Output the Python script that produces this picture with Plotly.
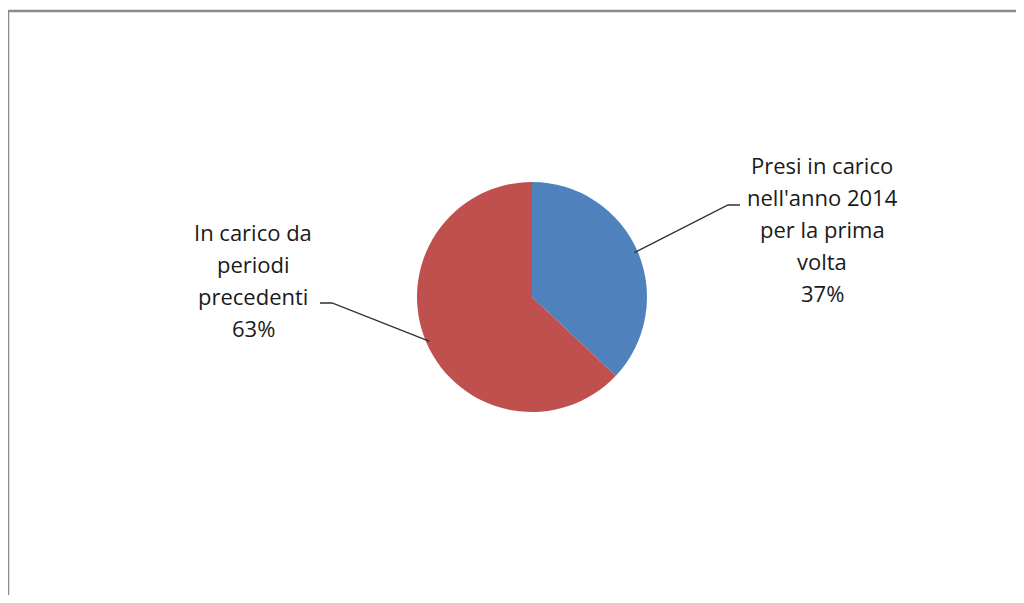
import math
import plotly.graph_objects as go

# Data
categories = ["Presi in carico nell'anno 2014 per la prima volta", "In carico da periodi precedenti"]
values = [37, 63]
label_lines = [
    ["Presi in carico", "nell'anno 2014", "per la prima", "volta"],
    ["In carico da", "periodi", "precedenti"],
]
colors = ["#4F81BD", "#C0504D"]

OFF = 8  # page body margin
W, H = 1008, 587
cx, cy, r = 532 - OFF, 297 - OFF, 115  # pie centre/radius in figure pixels (from top)

def px(x, y):
    """page pixel -> paper coords"""
    return (x - OFF) / W, 1 - (y - OFF) / H

fig = go.Figure()
fig.add_trace(go.Pie(
    labels=categories, values=values, sort=False, direction="clockwise", rotation=0,
    marker=dict(colors=colors, line=dict(width=0)),
    textinfo="none", hoverinfo="label+percent", showlegend=False,
    domain=dict(x=[(cx - r) / W, (cx + r) / W], y=[1 - (cy + r) / H, 1 - (cy - r) / H]),
))

font = dict(family="Open Sans, Liberation Sans, sans-serif", size=22, color="#1a1a1a")
annotations = []
shapes = []

label_cfg = [
    dict(x=822, y0=165, elbow=(728, 205), hook=(740, 205)),
    dict(x=253, y0=232, elbow=(332, 303), hook=(320, 303)),
]
spacing = 32
total = sum(values)
start = 0.0
for i, v in enumerate(values):
    frac = v / total
    mid = (start + frac / 2) * 2 * math.pi
    start += frac
    cfg = label_cfg[i]
    lines = label_lines[i] + [f"{round(frac * 100)}%"]
    for k, t in enumerate(lines):
        xp, yp = px(cfg["x"], cfg["y0"] + k * spacing)
        annotations.append(dict(text=t, x=xp, y=yp, xref="paper", yref="paper",
                                showarrow=False, xanchor="center", yanchor="middle", font=font))
    ex = (cx + OFF) + r * 0.97 * math.sin(mid)
    ey = (cy + OFF) - r * 0.97 * math.cos(mid)
    pts = [px(ex, ey), px(*cfg["elbow"]), px(*cfg["hook"])]
    path = "M {} {} L {} {} L {} {}".format(pts[0][0], pts[0][1], pts[1][0], pts[1][1], pts[2][0], pts[2][1])
    shapes.append(dict(type="path", path=path, xref="paper", yref="paper",
                       line=dict(color="#303030", width=1.3)))

# chart frame (left and top edges visible)
fx, fy = px(8, 11)
shapes.append(dict(type="line", xref="paper", yref="paper", x0=fx, x1=fx, y0=-0.02, y1=fy,
                   line=dict(color="#8c8c8c", width=2.5)))
shapes.append(dict(type="line", xref="paper", yref="paper", x0=fx, x1=1.02, y0=fy, y1=fy,
                   line=dict(color="#8c8c8c", width=2.5)))

fig.update_layout(
    width=W, height=H, margin=dict(l=0, r=0, t=0, b=0),
    paper_bgcolor="white", plot_bgcolor="white",
    annotations=annotations, shapes=shapes,
)
fig.write_html("out.html")
